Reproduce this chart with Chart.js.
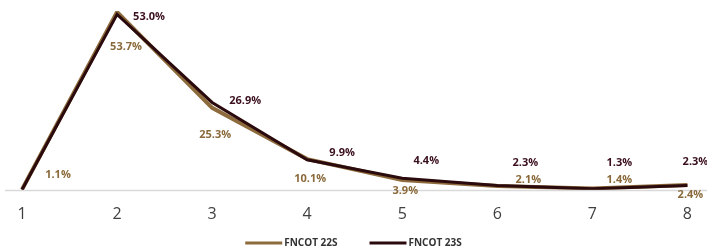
<!DOCTYPE html>
<html lang="en">
  <head>
    <meta charset="UTF-8" />
    <title>FNCOT 22S vs 23S</title>
    <style>
      html, body { margin: 0; padding: 0; background: #fff; }
      #wrap { width: 707px; height: 251px; }
    </style>
  </head>
  <body>
    <div id="wrap"><canvas id="lineCanvas" width="707" height="251"></canvas></div>

    <script src="https://cdn.jsdelivr.net/npm/chart.js@4/dist/chart.umd.min.js"></script>
    <script>
        // data
        let categories = ['1', '2', '3', '4', '5', '6', '7', '8'];
        let fncot22 = [1.1, 53.7, 25.3, 10.1, 3.9, 2.1, 1.4, 2.4];
        let fncot23 = [1.0, 53.0, 26.9, 9.9, 4.4, 2.3, 1.3, 2.3];
        let hidden23 = [0]; // no label shown for the first 23S point

        // label placement relative to each point (px), like excel put them
        let shift22 = [[36, -15], [9, 35], [3, 27], [3, 20], [3, 11], [31, -6], [27, -9], [3, 10]];
        let shift23 = [[0, 0], [32, 2], [33, -2], [35, -7], [24, -17], [28, -23], [27, -26], [8, -24]];

        const brown = '#8d6b3c';
        const dark = '#2b0a0e';

        // bottom grey rule
        let baseLine = {
            id: 'baseLine',
            beforeDatasetsDraw(chart) {
                let c = chart.ctx;
                let y = Math.round(chart.scales.y.getPixelForValue(chart.scales.y.min)) + 0.5;
                c.save();
                c.strokeStyle = '#d9d9d9';
                c.lineWidth = 1.5;
                c.beginPath();
                c.moveTo(5, y);
                c.lineTo(chart.width, y);
                c.stroke();
                c.restore();
            }
        };

        // percentage labels
        let valueLabels = {
            id: 'valueLabels',
            afterDatasetsDraw(chart) {
                let c = chart.ctx;
                c.save();
                c.font = 'bold 11px "Open Sans"';
                c.textAlign = 'center';
                c.textBaseline = 'middle';
                chart.data.datasets.forEach((ds, di) => {
                    let meta = chart.getDatasetMeta(di);
                    let shifts = di === 0 ? shift22 : shift23;
                    c.fillStyle = di === 0 ? '#8a6a3b' : '#3a0f1e';
                    meta.data.forEach((pt, i) => {
                        if (di === 1 && hidden23.includes(i)) return;
                        let s = shifts[i];
                        c.fillText(ds.data[i].toFixed(1) + '%', pt.x + s[0], pt.y + s[1]);
                    });
                });
                c.restore();
            }
        };

        // legend drawn by hand so the spacing matches
        let lineLegend = {
            id: 'lineLegend',
            afterDraw(chart) {
                let c = chart.ctx;
                let sample = 37, gap = 2, between = 32, y = 243;
                c.save();
                c.font = 'bold 10px "Open Sans"';
                c.textBaseline = 'middle';
                c.textAlign = 'left';
                let items = chart.data.datasets.map(ds => ({ text: ds.label, color: ds.borderColor, w: c.measureText(ds.label).width }));
                let total = items.reduce((s, it) => s + sample + gap + it.w, 0) + between * (items.length - 1);
                let x = (chart.width - total) / 2;
                items.forEach(it => {
                    c.strokeStyle = it.color;
                    c.lineWidth = 3;
                    c.beginPath();
                    c.moveTo(x, y);
                    c.lineTo(x + sample, y);
                    c.stroke();
                    c.fillStyle = '#333333';
                    c.fillText(it.text, x + sample + gap, y);
                    x += sample + gap + it.w + between;
                });
                c.restore();
            }
        };

        let ctx = document.getElementById('lineCanvas').getContext('2d');
        window.lineChart = new Chart(ctx, {
            type: 'line',
            data: {
                labels: categories,
                datasets: [
                    { label: 'FNCOT 22S', data: fncot22, borderColor: brown, backgroundColor: brown, borderWidth: 4, pointRadius: 0, tension: 0, order: 1 },
                    { label: 'FNCOT 23S', data: fncot23, borderColor: dark, backgroundColor: dark, borderWidth: 3, pointRadius: 0, tension: 0, order: 0 }
                ]
            },
            options: {
                responsive: false,
                animation: false,
                layout: { padding: { left: 22, right: 17, top: 11, bottom: 12 } },
                scales: {
                    x: {
                        offset: false,
                        grid: { display: false, drawTicks: false },
                        border: { display: false },
                        ticks: { color: '#404040', font: { family: 'Open Sans', size: 16 }, padding: 15 }
                    },
                    y: {
                        display: false,
                        min: 1,
                        max: 54
                    }
                },
                plugins: {
                    tooltip: { enabled: false },
                    legend: { display: false }
                }
            },
            plugins: [baseLine, valueLabels, lineLegend]
        });
    </script>
  </body>
</html>
